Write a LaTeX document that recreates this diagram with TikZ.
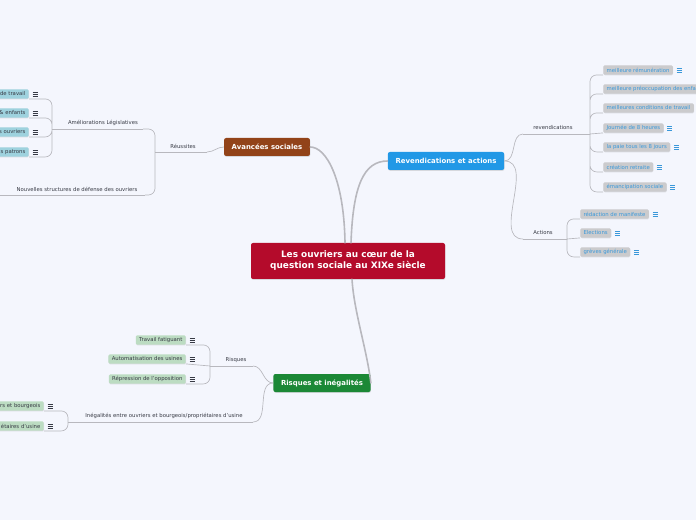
\documentclass[tikz,border=0pt]{standalone}
\usepackage{fontspec}
\setmainfont{DejaVu Sans}
\usetikzlibrary{calc,positioning,shadows}
\definecolor{BackClr}{RGB}{244,246,253}
\definecolor{CoreClr}{RGB}{180,11,43}
\definecolor{AvClr}{RGB}{146,67,25}
\definecolor{RevClr}{RGB}{33,152,230}
\definecolor{RisClr}{RGB}{27,136,54}
\definecolor{LineClr}{RGB}{184,184,190}
\definecolor{TxtClr}{RGB}{55,58,68}
\definecolor{LinkClr}{RGB}{58,152,218}
\definecolor{GrayLeafClr}{RGB}{203,203,205}
\definecolor{GreenLeafClr}{RGB}{188,220,194}
\definecolor{TealLeafClr}{RGB}{158,210,222}

\begin{document}
\begin{tikzpicture}[x=0.75pt,y=-0.75pt]
\tikzset{
  core/.style={fill=CoreClr,text=white,rounded corners=1.5pt,align=center,
    minimum width=145.5pt,minimum height=27pt,inner sep=0pt,
    font=\bfseries\fontsize{6.7}{8.3}\selectfont,
    drop shadow={shadow xshift=0.3pt,shadow yshift=-0.6pt,opacity=0.25}},
  topic/.style={text=white,rounded corners=1.5pt,minimum height=13.5pt,
    inner xsep=5.7pt,inner ysep=0pt,font=\bfseries\fontsize{5.2}{6}\selectfont,
    drop shadow={shadow xshift=0.3pt,shadow yshift=-0.6pt,opacity=0.25}},
  lbl/.style={text=TxtClr,inner sep=0pt,font=\fontsize{4}{5}\selectfont},
  leaf/.style={rounded corners=1pt,minimum height=7pt,inner xsep=2.5pt,
    inner ysep=0pt,font=\fontsize{4}{5}\selectfont,
    drop shadow={shadow xshift=0.2pt,shadow yshift=-0.5pt,opacity=0.2}},
  grayleaf/.style={leaf,fill=GrayLeafClr,text=LinkClr,anchor=west},
  greenleaf/.style={leaf,fill=GreenLeafClr,text=TxtClr,anchor=east},
  tealleaf/.style={leaf,fill=TealLeafClr,text=TxtClr,anchor=east,
    text width=34pt,align=right},
  branch/.style={draw=LineClr,line width=1.2pt,line cap=round},
  twig/.style={draw=LineClr,line width=0.5pt,rounded corners=5pt},
  noteicon/.pic={\draw[line width=0.6pt] (-2.5,-2)--(2.5,-2) (-2.5,0)--(2.5,0)
    (-2.5,2)--(2.5,2);}
}
\fill[BackClr] (0,0) rectangle (696,520);
\useasboundingbox (0,0) rectangle (696,520);
\clip (0,0) rectangle (696,520);

% main nodes
\node[core] (C) at (348,261) {Les ouvriers au cœur de la\\question sociale au XIXe siècle};
\node[topic,fill=AvClr] (A) at (267,147) {Avancées sociales};
\node[topic,fill=RevClr] (R) at (446,161) {Revendications et actions};
\node[topic,fill=RisClr] (Q) at (322,383) {Risques et inégalités};

\draw[branch] ($(C.north)+(-3,0)$) .. controls (344,178) and (326,147) .. (A.east);
\draw[branch] ($(C.north)+(3,0)$) .. controls (353,185) and (364,161) .. (R.west);
\draw[branch] ($(C.south)+(4,0)$) .. controls (354,312) and (367,350) .. (Q.east);

% labels
\node[lbl] (reu) at (183,146) {Réussites};
\node[lbl] (ame) at (103,123) {Améliorations Législatives};
\node[lbl] (nou) at (77,189) {Nouvelles structures de défense des ouvriers};
\node[lbl] (rev) at (553,128) {revendications};
\node[lbl] (act) at (543,233) {Actions};
\node[lbl] (ris) at (236,360) {Risques};
\node[lbl] (ine) at (164,416) {Inégalités entre ouvriers et bourgeois/propriétaires d'usine};

\coordinate (reuL) at (155,152); \coordinate (reuR) at (207,152);
\coordinate (ameL) at (52,129);  \coordinate (ameR) at (143,129);
\coordinate (nouL) at (0,195);   \coordinate (nouR) at (145,195);
\coordinate (revL) at (523,134); \coordinate (revR) at (590,134);
\coordinate (actL) at (523,239); \coordinate (actR) at (567,239);
\coordinate (risL) at (210,366); \coordinate (risR) at (253,366);
\coordinate (ineL) at (68,422);  \coordinate (ineR) at (253,422);

\draw[twig] (reuL) -- (reuR) (ameL) -- (ameR) (nouL) -- (nouR)
  (revL) -- (revR) (actL) -- (actR) (risL) -- (risR) (ineL) -- (ineR);
\draw[twig] (reuR) to[out=0,in=180] (A.west);
\draw[twig] (reuL) |- (ameR);
\draw[twig] (reuL) |- (nouR);
\draw[twig] (R.east) to[out=0,in=180] (revL);
\draw[twig] (R.east) to[out=0,in=180] (actL);
\draw[twig] (risR) to[out=0,in=180] (Q.west);
\draw[twig] (ineR) to[out=0,in=180] (Q.west);

% leaves
\node[tealleaf] (a1) at (29,94) {de travail};
\node[tealleaf] (a2) at (29,113) {\& enfants};
\node[tealleaf] (a3) at (29,132) {s ouvriers};
\node[tealleaf] (a4) at (29,152) {s patrons};

\node[grayleaf] (v1) at (603,70) {meilleure rémunération};
\node[grayleaf] (v2) at (603,89) {meilleure préoccupation des enfants};
\node[grayleaf] (v3) at (603,108) {meilleures conditions de travail};
\node[grayleaf] (v4) at (603,128) {Journée de 8 heures};
\node[grayleaf] (v5) at (603,147) {la paie tous les 8 jours};
\node[grayleaf] (v6) at (603,167) {création retraite};
\node[grayleaf] (v7) at (603,187) {émancipation sociale};

\node[grayleaf] (t1) at (580,214) {rédaction de manifeste};
\node[grayleaf] (t2) at (580,233) {Elections};
\node[grayleaf] (t3) at (580,252) {grèves générale};

\node[greenleaf] (q1) at (186,340) {Travail fatiguant};
\node[greenleaf] (q2) at (186,359) {Automatisation des usines};
\node[greenleaf] (q3) at (186,379) {Répression de l'opposition};

\node[greenleaf,text width=50pt,align=right] (i1) at (44,406) {rs et bourgeois};
\node[greenleaf,text width=50pt,align=right] (i2) at (44,426) {étaires d'usine};

\draw[twig] (ameL) |- (a1.south east) (ameL) |- (a2.south east)
  (ameL) |- (a3.south east) (ameL) |- (a4.south east);
\draw[twig] (revR) |- (v1.south west) (revR) |- (v2.south west)
  (revR) |- (v3.south west) (revR) -- (v4.south west)
  (revR) |- (v5.south west) (revR) |- (v6.south west) (revR) |- (v7.south west);
\draw[twig] (actR) |- (t1.south west) (actR) -- (t2.south west)
  (actR) |- (t3.south west);
\draw[twig] (risL) |- (q1.south east) (risL) -- (q2.south east)
  (risL) |- (q3.south east);
\draw[twig] (ineL) |- (i1.south east) (ineL) |- (i2.south east);

% note icons
\foreach \n in {a1,a2,a3,a4,q1,q2,q3,i1,i2}
  \pic[TxtClr] at ($(\n.east)+(6,0)$) {noteicon};
\foreach \n in {v1,v4,v5,v6,v7,t1,t2,t3}
  \pic[LinkClr] at ($(\n.east)+(6,0)$) {noteicon};
\end{tikzpicture}
\end{document}
